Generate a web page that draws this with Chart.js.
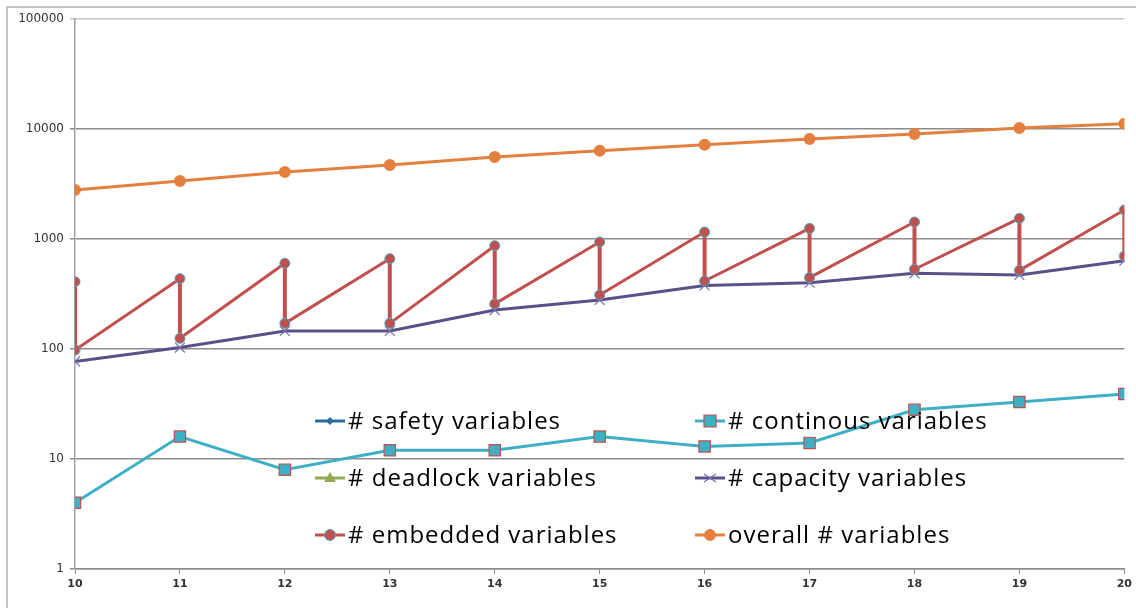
<!DOCTYPE html>
<html>
<head>
<meta charset="utf-8">
<script src="https://cdn.jsdelivr.net/npm/chart.js@4"></script>
<style>
  html, body { margin: 0; padding: 0; background: #fff; }
  #wrap { position: relative; width: 1136px; height: 608px; }
  #frame { position: absolute; left: 6px; top: 6px; right: 0; bottom: 0;
           border-top: 2px solid #c4c4c4; border-left: 2px solid #c4c4c4; }
  canvas { position: absolute; left: 0; top: 0; }
</style>
</head>
<body>
<div id="wrap">
  <div id="frame"></div>
  <canvas id="chart" width="1136" height="608"></canvas>
</div>
<script>
// x categories (problem size)
const xValues = [10, 11, 12, 13, 14, 15, 16, 17, 18, 19, 20];

// series values (log scale)
const safetyVars     = [null, null, null, null, null, null, null, null, null, null, null];
const continousVars  = [4, 16, 8, 12, 12, 16, 13, 14, 28, 33, 39];
const deadlockVars   = [null, null, null, null, null, null, null, null, null, null, null];
const capacityVars   = [77, 103, 146, 146, 226, 279, 378, 401, 488, 471, 635];
const embeddedHigh   = [409, 436, 601, 662, 869, 939, 1157, 1250, 1428, 1543, 1835];
const embeddedLow    = [98, 125, 171, 171, 257, 310, 415, 445, 531, 519, 700];
const overallVars    = [2790, 3370, 4070, 4710, 5560, 6350, 7200, 8110, 9010, 10200, 11170];

const yTicks = [1, 10, 100, 1000, 10000, 100000];

const toPoints = arr => xValues.map((x, i) => ({ x: x, y: arr[i] }));

// embedded: high then low at every x, so the line zig-zags
const embeddedPoints = [];
xValues.forEach((x, i) => {
  embeddedPoints.push({ x: x, y: embeddedHigh[i] });
  embeddedPoints.push({ x: x, y: embeddedLow[i] });
});

const datasets = [
  { label: "# safety variables", data: toPoints(safetyVars), borderColor: "#2b6d9c", backgroundColor: "#2b6d9c",
    pointStyle: "rectRot", pointRadius: 5, borderWidth: 3, order: 6 },
  { label: "# continous variables", data: toPoints(continousVars), borderColor: "#3eb0c6", backgroundColor: "#3eb0c6",
    pointStyle: "rect", pointRadius: 8, pointBorderColor: "#c0504d", pointBorderWidth: 1.2, borderWidth: 3, order: 5 },
  { label: "# deadlock variables", data: toPoints(deadlockVars), borderColor: "#93a956", backgroundColor: "#93a956",
    pointStyle: "triangle", pointRadius: 6, borderWidth: 3, order: 4 },
  { label: "# capacity variables", data: toPoints(capacityVars), borderColor: "#5d4e8a", backgroundColor: "#5d4e8a",
    pointStyle: "crossRot", pointRadius: 7, pointBorderColor: "#7a6fae", pointBorderWidth: 1.2, borderWidth: 3, order: 3 },
  { label: "# embedded variables", data: embeddedPoints, borderColor: "#c0504d", backgroundColor: "#c0504d",
    pointStyle: "circle", pointRadius: 5, pointBorderColor: "#4bacc6", pointBorderWidth: 1, borderWidth: 3, order: 2,
    // vertical drops come out a little heavier in the original
    segment: { borderWidth: c => c.p0.parsed.x === c.p1.parsed.x ? 4 : 3 } },
  { label: "overall # variables", data: toPoints(overallVars), borderColor: "#e3803f", backgroundColor: "#e3803f",
    pointStyle: "circle", pointRadius: 4.5, pointBorderColor: "#e3803f", borderWidth: 3, order: 1 }
];
datasets.forEach(d => { d.tension = 0; });

// legend drawn inside the plot, 2 columns x 3 rows, over the lines
const insideLegend = {
  id: "insideLegend",
  afterDatasetsDraw(chart) {
    const ctx = chart.ctx;
    const area = chart.chartArea;
    const cols = [area.left + 240, area.left + 620];
    const rows = [421, 478, 535];
    ctx.save();
    ctx.font = "24px 'Open Sans', sans-serif";
    ctx.letterSpacing = "1px";
    ctx.textBaseline = "middle";
    chart.data.datasets.forEach((ds, i) => {
      const cx = cols[i % 2];
      const cy = rows[Math.floor(i / 2)];
      const mx = cx + 15;
      ctx.strokeStyle = ds.borderColor;
      ctx.lineWidth = 3;
      ctx.beginPath();
      ctx.moveTo(cx, cy);
      ctx.lineTo(cx + 30, cy);
      ctx.stroke();
      ctx.fillStyle = ds.backgroundColor;
      ctx.strokeStyle = ds.pointBorderColor || ds.borderColor;
      ctx.lineWidth = ds.pointBorderWidth || 1;
      ctx.beginPath();
      if (ds.pointStyle === "rect") {
        ctx.rect(mx - 6, cy - 6, 12, 12);
        ctx.fill(); ctx.stroke();
      } else if (ds.pointStyle === "circle") {
        ctx.arc(mx, cy, 5.5, 0, Math.PI * 2);
        ctx.fill(); ctx.stroke();
      } else if (ds.pointStyle === "rectRot") {
        ctx.moveTo(mx, cy - 4); ctx.lineTo(mx + 4, cy);
        ctx.lineTo(mx, cy + 4); ctx.lineTo(mx - 4, cy);
        ctx.closePath(); ctx.fill();
      } else if (ds.pointStyle === "triangle") {
        ctx.moveTo(mx, cy - 6); ctx.lineTo(mx + 6, cy + 4);
        ctx.lineTo(mx - 6, cy + 4); ctx.closePath(); ctx.fill();
      } else if (ds.pointStyle === "crossRot") {
        ctx.moveTo(mx - 6, cy - 4); ctx.lineTo(mx + 6, cy + 4);
        ctx.moveTo(mx - 6, cy + 4); ctx.lineTo(mx + 6, cy - 4);
        ctx.stroke();
      }
      ctx.fillStyle = "#000";
      ctx.fillText(ds.label, cx + 33, cy + 1);
    });
    ctx.restore();
  }
};

window.addEventListener("DOMContentLoaded", () => {
  const ctx = document.getElementById("chart").getContext("2d");
  new Chart(ctx, {
    type: "line",
    data: { datasets: datasets },
    options: {
      responsive: false,
      animation: false,
      layout: { padding: { top: 19, right: 11, left: 0, bottom: 0 } },
      plugins: { legend: { display: false }, tooltip: { enabled: false } },
      scales: {
        x: {
          type: "linear", min: 10, max: 20,
          ticks: { stepSize: 1, color: "#333", padding: 4,
                   font: { family: "'DejaVu Sans'", size: 11, weight: "bold" } },
          grid: { drawOnChartArea: false, drawTicks: true, tickLength: 5, color: "#8c8c8c" },
          border: { color: "#8c8c8c", width: 1.5 },
          afterFit: s => { s.height = 39; }
        },
        y: {
          type: "logarithmic", min: 1, max: 100000,
          afterBuildTicks: s => { s.ticks = yTicks.map(v => ({ value: v })); },
          ticks: { color: "#333", padding: 6, callback: v => String(v),
                   font: { family: "'DejaVu Sans'", size: 12 } },
          grid: { color: (c) => c.tick && c.tick.value === 100000 ? "#c4c4c4" : "#8c8c8c",
                  lineWidth: 1.5, tickLength: 5 },
          border: { color: "#a0a0a0", width: 1.5 },
          afterFit: s => { s.width = 75; }
        }
      }
    },
    plugins: [insideLegend]
  });
});
</script>
</body>
</html>
